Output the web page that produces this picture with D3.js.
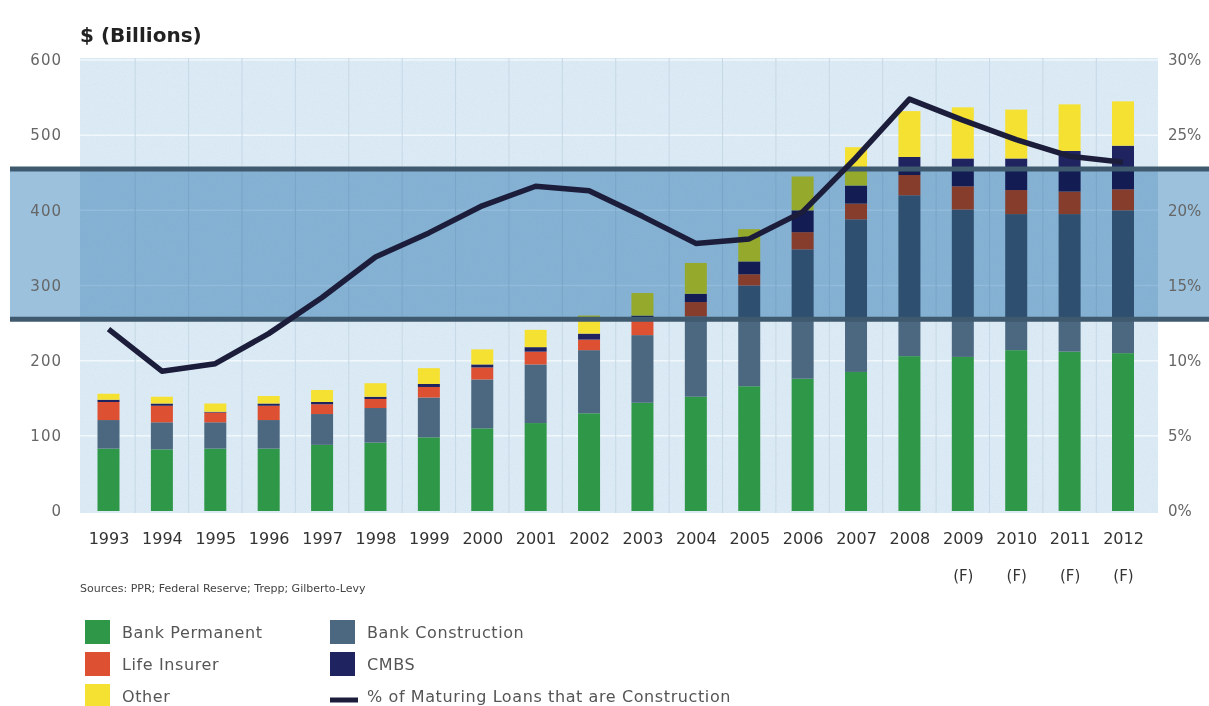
<!DOCTYPE html>
<html>
<head>
<meta charset="utf-8">
<script src="https://cdn.jsdelivr.net/npm/d3@7"></script>
<style>
  html, body { margin: 0; padding: 0; background: #ffffff; }
  svg { display: block; }
  text { font-family: "DejaVu Sans", "Liberation Sans", sans-serif; }
</style>
</head>
<body>
<svg id="chart" width="1209" height="706"></svg>
<script>
// ---------------- data ----------------
const years = ["1993","1994","1995","1996","1997","1998","1999","2000","2001","2002",
               "2003","2004","2005","2006","2007","2008","2009","2010","2011","2012"];
const forecastYears = ["2009","2010","2011","2012"];
const bankPermanent    = [83, 82, 83, 83, 88, 91, 98, 110, 117, 130, 144, 152, 166, 176, 185, 206, 205, 214, 212, 210];
const bankConstruction = [38, 36, 35, 38, 41, 46, 53, 65, 78, 84, 90, 107, 134, 172, 203, 214, 196, 181, 183, 190];
const lifeInsurer      = [24, 22, 13, 19, 13, 12, 14, 16, 17, 14, 23, 19, 15, 23, 21, 27, 31, 32, 30, 28];
const cmbs             = [3, 3, 1, 3, 3, 3, 4, 4, 6, 8, 3, 11, 17, 29, 24, 24, 37, 42, 54, 58];
const other            = [8, 9, 11, 10, 16, 18, 21, 20, 23, 24, 30, 41, 43, 45, 51, 61, 68, 65, 62, 59];
const pctConstruction  = [12.1, 9.3, 9.8, 11.8, 14.2, 16.9, 18.5, 20.3, 21.6, 21.3, 19.6, 17.8, 18.1, 19.9, 23.5, 27.4, 26.0, 24.7, 23.6, 23.2];
const leftTicks  = [0, 100, 200, 300, 400, 500, 600];
const rightTicks = [0, 5, 10, 15, 20, 25, 30];
const bandRange  = [255, 455];   // highlighted band, $ billions
const seriesKeys   = ["Bank Permanent", "Bank Construction", "Life Insurer", "CMBS", "Other"];
const seriesColors = ["#2f9848", "#4b6880", "#dd5032", "#1f2460", "#f5e132"];
const lineLabel = "% of Maturing Loans that are Construction";

// --------------- layout ---------------
const svg = d3.select("#chart");
const plot = { left: 80, right: 1158, top: 58, bottom: 513 };

const x = d3.scalePoint().domain(years).range([108.5, 1123]);
const barW = 22;
const y = d3.scaleLinear().domain([0, 600]).range([511, 60]);
const yr = d3.scaleLinear().domain([0, 30]).range([511, 60]);

const rows = years.map((yv, i) => ({
  year: yv,
  "Bank Permanent": bankPermanent[i],
  "Bank Construction": bankConstruction[i],
  "Life Insurer": lifeInsurer[i],
  "CMBS": cmbs[i],
  "Other": other[i]
}));
const stacked = d3.stack().keys(seriesKeys)(rows);
const color = d3.scaleOrdinal().domain(seriesKeys).range(seriesColors);

// texture filter for the plot background
const defs = svg.append("defs");
const f = defs.append("filter").attr("id", "grain")
  .attr("x", 0).attr("y", 0).attr("width", 1).attr("height", 1);
f.append("feTurbulence").attr("type", "fractalNoise")
  .attr("baseFrequency", "0.9").attr("numOctaves", 2).attr("seed", 3).attr("result", "n");
f.append("feColorMatrix").attr("in", "n").attr("type", "matrix")
  .attr("values", "0 0 0 0 0.55  0 0 0 0 0.70  0 0 0 0 0.82  0 0 0 1.6 -0.75");

// plot background
svg.append("rect")
  .attr("x", plot.left).attr("y", plot.top)
  .attr("width", plot.right - plot.left).attr("height", plot.bottom - plot.top)
  .attr("fill", "#dbeaf4");
svg.append("rect")
  .attr("x", plot.left).attr("y", plot.top)
  .attr("width", plot.right - plot.left).attr("height", plot.bottom - plot.top)
  .attr("filter", "url(#grain)").attr("opacity", 0.35);

// horizontal grid (white)
svg.append("g").selectAll("line").data(leftTicks.filter(d => d > 0)).join("line")
  .attr("x1", plot.left).attr("x2", plot.right)
  .attr("y1", d => y(d)).attr("y2", d => y(d))
  .attr("stroke", "#f1f7fb").attr("stroke-width", 1.5);

// vertical faint grid between bars
const step = x.step();
const vgrid = years.slice(0, -1).map(d => x(d) + step / 2);
svg.append("g").selectAll("line").data(vgrid).join("line")
  .attr("x1", d => d).attr("x2", d => d)
  .attr("y1", plot.top).attr("y2", plot.bottom)
  .attr("stroke", "#c6d9e6").attr("stroke-width", 1);

// bars
svg.append("g").selectAll("g").data(stacked).join("g")
  .attr("fill", d => color(d.key))
  .selectAll("rect").data(d => d).join("rect")
  .attr("x", d => x(d.data.year) - barW / 2)
  .attr("width", barW)
  .attr("y", d => y(d[1]))
  .attr("height", d => y(d[0]) - y(d[1]));

// highlighted band (multiplied over everything below)
svg.append("rect")
  .attr("x", 10).attr("width", 1209 - 10)
  .attr("y", y(bandRange[1])).attr("height", y(bandRange[0]) - y(bandRange[1]))
  .attr("fill", "#9bc1dd")
  .style("mix-blend-mode", "multiply");

svg.append("g").selectAll("line").data(bandRange).join("line")
  .attr("x1", 10).attr("x2", 1209)
  .attr("y1", d => y(d)).attr("y2", d => y(d))
  .attr("stroke", "#3f5a6e").attr("stroke-width", 5);

// percent line
const line = d3.line().x((d, i) => x(years[i])).y(d => yr(d));
svg.append("path")
  .datum(pctConstruction)
  .attr("d", line)
  .attr("fill", "none")
  .attr("stroke", "#1b1d3b")
  .attr("stroke-width", 5.5)
  .attr("stroke-linejoin", "round");

// left axis
const gl = svg.append("g").attr("transform", "translate(64,0)")
  .call(d3.axisLeft(y).tickValues(leftTicks).tickSize(0).tickPadding(2));
gl.select(".domain").remove();
gl.selectAll("text").attr("fill", "#666").style("font-size", "15px")
  .style("letter-spacing", "1px");

// right axis
const gr = svg.append("g").attr("transform", "translate(1166,0)")
  .call(d3.axisRight(yr).tickValues(rightTicks).tickFormat(d => d + "%").tickSize(0).tickPadding(2));
gr.select(".domain").remove();
gr.selectAll("text").attr("fill", "#666").style("font-size", "15px");

// bottom axis
const gb = svg.append("g").attr("transform", "translate(0,533)")
  .call(d3.axisBottom(x).tickSize(0).tickPadding(0));
gb.select(".domain").remove();
gb.selectAll("text").attr("fill", "#333").style("font-size", "16px").attr("dy", "0.71em");
gb.selectAll(".tick").filter(d => forecastYears.includes(d))
  .append("text")
  .attr("y", 0).attr("dy", "3.2em")
  .attr("fill", "#333").attr("text-anchor", "middle")
  .style("font-size", "15px")
  .text("(F)");

// title
svg.append("text").attr("x", 80).attr("y", 42)
  .style("font-size", "20px").style("font-weight", "bold").attr("fill", "#222")
  .text("$ (Billions)");

// sources
svg.append("text").attr("x", 80).attr("y", 592)
  .style("font-size", "11px").attr("fill", "#444")
  .text("Sources: PPR; Federal Reserve; Trepp; Gilberto-Levy");

// legend
const legendItems = [
  { key: "Bank Permanent",   col: 0, row: 0 },
  { key: "Life Insurer",     col: 0, row: 1 },
  { key: "Other",            col: 0, row: 2 },
  { key: "Bank Construction",col: 1, row: 0 },
  { key: "CMBS",             col: 1, row: 1 }
];
const colX = [85, 330];
const rowY = [620, 652, 684];
const lg = svg.append("g");
legendItems.forEach(it => {
  lg.append("rect")
    .attr("x", colX[it.col]).attr("y", rowY[it.row])
    .attr("width", 25).attr("height", 24)
    .attr("fill", color(it.key));
  lg.append("text")
    .attr("x", colX[it.col] + 37).attr("y", rowY[it.row] + 18)
    .style("font-size", "16px").style("letter-spacing", "0.6px").attr("fill", "#555")
    .text(it.key);
});
lg.append("line")
  .attr("x1", colX[1]).attr("x2", colX[1] + 28)
  .attr("y1", rowY[2] + 16).attr("y2", rowY[2] + 16)
  .attr("stroke", "#1b1d3b").attr("stroke-width", 5);
lg.append("text")
  .attr("x", colX[1] + 37).attr("y", rowY[2] + 18)
  .style("font-size", "16px").style("letter-spacing", "0.6px").attr("fill", "#555")
  .text(lineLabel);
</script>
</body>
</html>
